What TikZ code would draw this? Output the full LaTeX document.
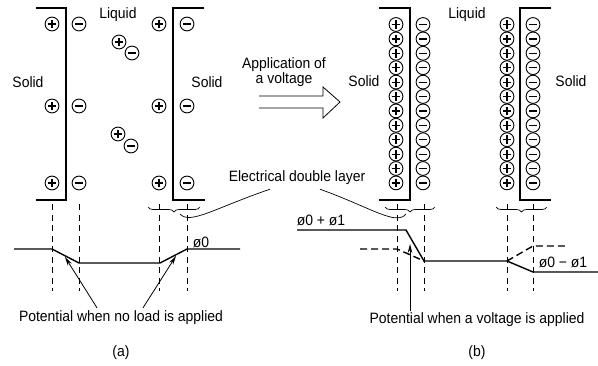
\documentclass[tikz,border=0pt]{standalone}
\usepackage{fontspec}
\setmainfont[FakeStretch=0.93]{Liberation Sans}
\usetikzlibrary{arrows.meta,decorations.pathreplacing}
\begin{document}
\begin{tikzpicture}[x=1pt,y=-1pt,
  lbl/.style={inner sep=0pt,font=\fontsize{15pt}{16pt}\selectfont},
  electrode/.style={line width=1.3pt},
  ion/.style={line width=0.9pt},
  sgn/.style={line width=1.2pt},
  guide/.style={line width=0.8pt,dash pattern=on 6pt off 4.5pt},
  pot/.style={line width=1.4pt},
  potdash/.style={line width=1.4pt,dash pattern=on 7pt off 4pt},
  callout/.style={line width=0.7pt},
  arr/.style={line width=0.8pt,-{Stealth[length=9pt,width=4.5pt]}},
  brc/.style={line width=0.7pt,decorate,decoration={brace,mirror,amplitude=5pt}},
  pc/.pic={\draw[ion] (0,0) circle[radius=6.9pt]; \draw[sgn] (-4.4pt,0)--(4.4pt,0) (0,-4.4pt)--(0,4.4pt);},
  mc/.pic={\draw[ion] (0,0) circle[radius=6.9pt]; \draw[sgn] (-4.4pt,0)--(4.4pt,0);}
]
\useasboundingbox (0,0) rectangle (598,365);

% ---------------- (a) ----------------
\draw[electrode] (36,8) -- (66,8) -- (66,200) -- (36,200);
\draw[electrode] (204,8) -- (173,8) -- (173,200) -- (205,200);
\foreach \y in {24,106,183}{
  \pic at (52,\y) {pc}; \pic at (79,\y) {mc};
  \pic at (159,\y) {pc}; \pic at (187,\y) {mc};
}
\pic at (119,42) {pc}; \pic at (132,53) {mc};
\pic at (118,134) {pc}; \pic at (131,146) {mc};

\node[lbl] (liqA) at (118,15) {Liquid};
\node[lbl] (solA1) at (28,82) {Solid};
\node[lbl] (solA2) at (207,82) {Solid};

\foreach \x in {52,79,159,187}{\draw[guide] (\x,204) -- (\x,291);}
\draw[brc] (148,207) -- (200,207);

\coordinate (a1) at (14,249);
\coordinate (a2) at (52,249);
\coordinate (a3) at (79,263);
\coordinate (a4) at (160,263);
\coordinate (a5) at (187,249);
\coordinate (a6) at (240,249);
\draw[pot] (a1) -- (a2) -- (a3) -- (a4) -- (a5) -- (a6);
\node[lbl] (phiA) at (201,242) {ø0};

\node[lbl] (noload) at (121,318) {Potential when no load is applied};
\coordinate (tA1) at (65,257);
\coordinate (tA2) at (176,256);
\draw[arr] ([xshift=-24pt,yshift=3pt]noload.north) -- (tA1);
\draw[arr] ([xshift=22pt,yshift=3pt]noload.north) -- (tA2);
\node[lbl] (capA) at (121,353) {(a)};

% ---------------- arrow ----------------
\node[lbl,align=center] (appl) at (284,72) {Application of\\[-1pt]a voltage};
\draw[line width=0.8pt] (259,96) -- (323,96) -- (323,87) -- (340,102) -- (323,118) -- (323,108) -- (259,108);

% ---------------- (b) ----------------
\draw[electrode] (379,8) -- (410,8) -- (410,200) -- (379,200);
\draw[electrode] (551,8) -- (520,8) -- (520,200) -- (551,200);
\foreach \k in {0,...,11}{
  \pgfmathsetmacro{\yy}{24.5+14.4*\k}
  \pic at (396,\yy) {pc}; \pic at (423,\yy) {mc};
  \pic at (507,\yy) {pc}; \pic at (533,\yy) {mc};
}
\node[lbl] (liqB) at (467,15) {Liquid};
\node[lbl] (solB1) at (364,81) {Solid};
\node[lbl] (solB2) at (571,81) {Solid};

\foreach \x in {397,424,507,533}{\draw[guide] (\x,204) -- (\x,291);}
\draw[brc] (385,207) -- (435,207);
\draw[brc] (496,207) -- (547,207);

\node[lbl] (edl) at (297,178) {Electrical double layer};
\draw[callout] ([xshift=-27pt,yshift=-4pt]edl.south) .. controls (215,208) and (190,225) .. (180,214);
\draw[callout] ([xshift=23pt,yshift=-4pt]edl.south) .. controls (372,208) and (396,226) .. (406,214);

\coordinate (b1) at (297,230);
\coordinate (b2) at (406,230);
\coordinate (b3) at (424,261);
\coordinate (b4) at (507,261);
\coordinate (b5) at (533,272);
\coordinate (b6) at (598,272);
\draw[pot] (b1) -- (b2) -- (b3) -- (b4) -- (b5) -- (b6);
\coordinate (d1) at (360,249);
\coordinate (d2) at (397,249);
\coordinate (d3) at (533,246);
\coordinate (d4) at (566,246);
\draw[potdash] (d1) -- (d2) -- (b3);
\draw[potdash] (b4) -- (d3) -- (d4);
\node[lbl] (phiB1) at (321,220) {ø0 + ø1};
\node[lbl] (phiB2) at (563,262) {ø0 − ø1};

\node[lbl] (volt) at (477,320) {Potential when a voltage is applied};
\coordinate (tB) at (410,244);
\draw[arr] (volt.north -| tB) ++(0,-2) -- (tB);
\node[lbl] (capB) at (477,353) {(b)};
\end{tikzpicture}
\end{document}
